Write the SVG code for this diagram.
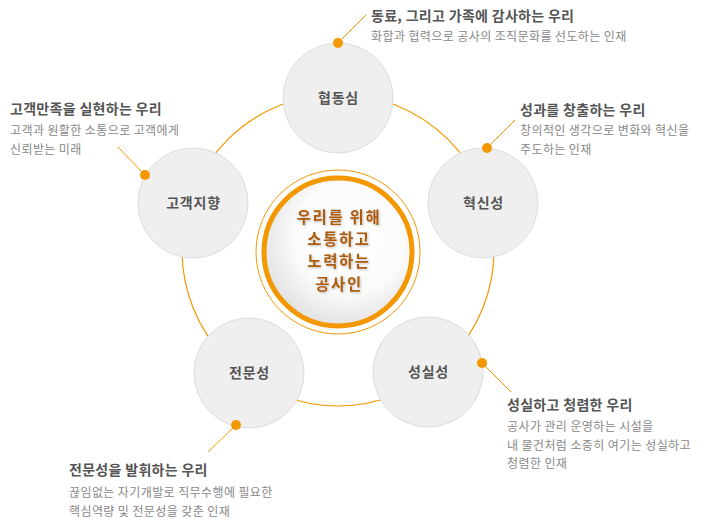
<svg xmlns="http://www.w3.org/2000/svg" width="704" height="529" viewBox="0 0 704 529">
<defs>
<radialGradient id="ball" cx="0.58" cy="0.4" r="0.62">
<stop offset="0" stop-color="#ffffff"/>
<stop offset="0.6" stop-color="#fbfbfb"/>
<stop offset="1" stop-color="#e2e2e2"/>
</radialGradient>
<filter id="sh" x="-10%" y="-10%" width="130%" height="130%">
<feDropShadow dx="1" dy="1" stdDeviation="0.8" flood-color="#000" flood-opacity="0.25"/>
</filter>
</defs>
<style>
text{font-family:"Noto Sans CJK KR","Noto Sans",sans-serif}
.node{fill:#efefef;stroke:#dcdcdc;stroke-width:1}
.nl{font-size:14px;font-weight:bold;fill:#555;text-anchor:middle;letter-spacing:0.8px}
.ttl{font-size:14px;font-weight:bold;fill:#555;letter-spacing:0.3px}
.sub{font-size:12px;fill:#888;letter-spacing:0.4px}
.lead{stroke:#f39800;stroke-width:1;fill:none}
.dot{fill:#f39800}
.ctr{font-size:15.4px;font-weight:bold;fill:#ad5a0c;text-anchor:middle;letter-spacing:1.7px}
</style>
<rect width="704" height="529" fill="#fff"/>
<g id="connectors">
<circle cx="338" cy="250" r="156" fill="none" stroke="#f39800" stroke-width="1.2"/>
<line class="lead" x1="338" y1="43" x2="366" y2="15"/>
<line class="lead" x1="487" y1="148" x2="515" y2="120"/>
<line class="lead" x1="145" y1="175" x2="118" y2="147"/>
<line class="lead" x1="482" y1="363" x2="511" y2="392"/>
<line class="lead" x1="236" y1="425" x2="208" y2="452"/>
</g>
<g id="center">
<circle cx="338" cy="252" r="82" fill="#fff" stroke="#f39800" stroke-width="1"/>
<circle cx="338" cy="252" r="74" fill="url(#ball)" stroke="#f39800" stroke-width="5"/>
<g filter="url(#sh)">
<text class="ctr" x="339" y="222.5">우리를 위해</text>
<text class="ctr" x="339" y="245">소통하고</text>
<text class="ctr" x="339" y="267.4">노력하는</text>
<text class="ctr" x="339" y="289.8">공사인</text>
</g>
</g>
<g id="n-hyeopdong">
<circle class="node" cx="338" cy="98" r="55"/>
<text class="nl" x="338.5" y="103">협동심</text>
<circle class="dot" cx="338" cy="43" r="5"/>
<text class="ttl" x="371" y="21">동료, 그리고 가족에 감사하는 우리</text>
<text class="sub" x="371" y="41">화합과 협력으로 공사의 조직문화를 선도하는 인재</text>
</g>
<g id="n-hyeoksin">
<circle class="node" cx="483" cy="203" r="55"/>
<text class="nl" x="483.5" y="208">혁신성</text>
<circle class="dot" cx="487" cy="148" r="5"/>
<text class="ttl" x="520" y="115">성과를 창출하는 우리</text>
<text class="sub" x="520" y="135">창의적인 생각으로 변화와 혁신을</text>
<text class="sub" x="520" y="153.5">주도하는 인재</text>
</g>
<g id="n-gogaek">
<circle class="node" cx="193" cy="203" r="55"/>
<text class="nl" x="193.5" y="208">고객지향</text>
<circle class="dot" cx="145" cy="175" r="5"/>
<text class="ttl" x="10" y="114">고객만족을 실현하는 우리</text>
<text class="sub" x="10" y="135">고객과 원활한 소통으로 고객에게</text>
<text class="sub" x="10" y="153.5">신뢰받는 미래</text>
</g>
<g id="n-seongsil">
<circle class="node" cx="428" cy="372" r="55"/>
<text class="nl" x="428.5" y="377">성실성</text>
<circle class="dot" cx="482" cy="363" r="5"/>
<text class="ttl" x="507" y="410">성실하고 청렴한 우리</text>
<text class="sub" x="507" y="431">공사가 관리 운영하는 시설을</text>
<text class="sub" x="507" y="449.5">내 물건처럼 소중히 여기는 성실하고</text>
<text class="sub" x="507" y="468">청렴한 인재</text>
</g>
<g id="n-jeonmun">
<circle class="node" cx="249" cy="373" r="55"/>
<text class="nl" x="249.5" y="378">전문성</text>
<circle class="dot" cx="236" cy="425" r="5"/>
<text class="ttl" x="69" y="475">전문성을 발휘하는 우리</text>
<text class="sub" x="69" y="497">끊임없는 자기개발로 직무수행에 필요한</text>
<text class="sub" x="69" y="515.5">핵심역량 및 전문성을 갖춘 인재</text>
</g>
</svg>
